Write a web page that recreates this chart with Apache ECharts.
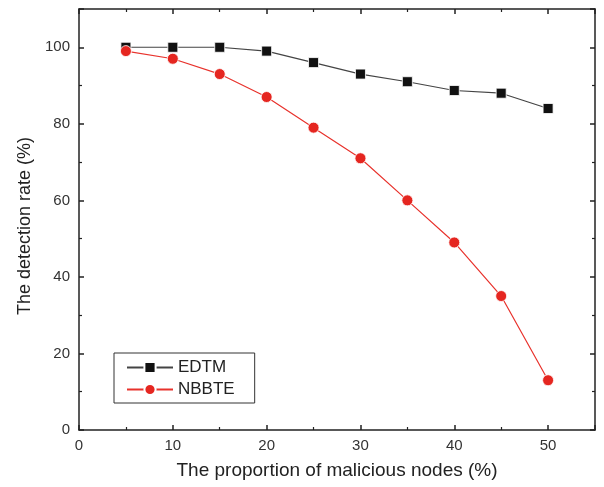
<!DOCTYPE html>
<html><head><meta charset="utf-8">
<script src="https://cdn.jsdelivr.net/npm/echarts@6/dist/echarts.min.js"></script>
<style>html,body{margin:0;padding:0;background:#fff}#c{width:604px;height:487px}</style>
</head><body><div id="c"></div>
<script>
var xValues = [5, 10, 15, 20, 25, 30, 35, 40, 45, 50];
var edtm = [100, 100, 100, 99, 96, 93, 91, 88.7, 88, 84];
var nbbte = [99, 97, 93, 87, 79, 71, 60, 49, 35, 13];
var seriesNames = ['EDTM', 'NBBTE'];

function pairs(v){ return xValues.map(function(x,i){ return [x, v[i]]; }); }
var font = 'Liberation Sans, Arial, sans-serif';
var axisLine = {show:true, onZero:false, lineStyle:{color:'#222', width:1.5}};
var tick = {show:true, inside:true, length:5, lineStyle:{color:'#222', width:1.5}};
var minor = {show:true, splitNumber:2, length:3, lineStyle:{color:'#222', width:1.2}};
var chart = echarts.init(document.getElementById('c'));
chart.setOption({
  animation:false,
  grid:{left:79, right:9, top:9, bottom:57},
  legend:{
    show:true, orient:'vertical', left:114, top:353, width:140,
    padding:[6,20,5,12], itemGap:5, itemWidth:46, itemHeight:14,
    borderColor:'#333', borderWidth:1,
    textStyle:{fontFamily:font, fontSize:17, color:'#222'},
    data:seriesNames
  },
  xAxis:[{
    type:'value', min:0, max:55, interval:10,
    axisLine:axisLine, axisTick:tick, minorTick:minor, splitLine:{show:false},
    axisLabel:{fontFamily:font, fontSize:15, color:'#333', margin:8,
      formatter:function(v){ return v>50? '' : v; }},
    name:'The proportion of malicious nodes (%)', nameLocation:'middle', nameGap:31,
    nameTextStyle:{fontFamily:font, fontSize:19, color:'#222'}
  },{
    type:'value', position:'top', min:0, max:55, interval:10,
    axisLine:axisLine, axisTick:tick, minorTick:minor, splitLine:{show:false},
    axisLabel:{show:false}
  }],
  yAxis:[{
    type:'value', min:0, max:110, interval:20,
    axisLine:axisLine, axisTick:tick, minorTick:minor, splitLine:{show:false},
    axisLabel:{fontFamily:font, fontSize:15, color:'#333', margin:9,
      formatter:function(v){ return v>100? '' : v; }},
    name:'The detection rate (%)', nameLocation:'middle', nameGap:45, nameRotate:90,
    nameTextStyle:{fontFamily:font, fontSize:18, color:'#222', padding:[0,13,0,0]}
  },{
    type:'value', position:'right', min:0, max:110, interval:20,
    axisLine:axisLine, axisTick:tick, minorTick:minor, splitLine:{show:false},
    axisLabel:{show:false}
  }],
  series:[{
    name:seriesNames[0], type:'line', data:pairs(edtm),
    symbol:'rect', symbolSize:10,
    lineStyle:{color:'#444', width:1.2},
    itemStyle:{color:'#111', borderColor:'#fff', borderWidth:0.8}
  },{
    name:seriesNames[1], type:'line', data:pairs(nbbte),
    symbol:'circle', symbolSize:11,
    lineStyle:{color:'#e8322c', width:1.2},
    itemStyle:{color:'#e52620', borderColor:'#fff', borderWidth:0.8}
  }]
});
</script></body></html>
